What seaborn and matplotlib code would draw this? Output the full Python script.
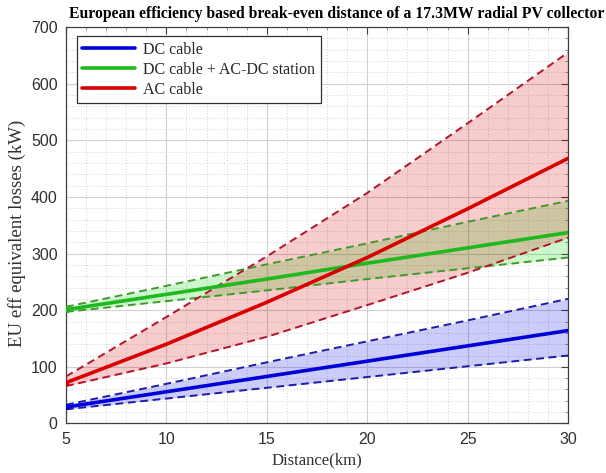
import numpy as np
import pandas as pd
import seaborn as sns
import matplotlib
matplotlib.use("Agg")
import matplotlib.pyplot as plt
from matplotlib.ticker import MultipleLocator

# ---- data ----
distance = [5, 10, 15, 20, 25, 30]
dc_mid = [29, 56, 83, 110, 137, 164]
dc_hi = [33, 70, 108, 145, 182, 220]
dc_lo = [25, 44, 63, 82, 101, 120]
dcac_mid = [201, 228, 255, 283, 310, 337]
dcac_hi = [206, 243, 281, 318, 356, 393]
dcac_lo = [197, 216, 235, 255, 274, 293]
ac_mid = [72, 140, 214, 293, 379, 468]
ac_hi = [83, 188, 295, 407, 530, 655]
ac_lo = [66, 106, 153, 209, 266, 328]

labels = ["DC cable", "DC cable + AC-DC station", "AC cable"]
x_ticks = [5, 10, 15, 20, 25, 30]
y_ticks = [0, 100, 200, 300, 400, 500, 600, 700]

sns.set_theme(style="white")
plt.rcParams["font.family"] = ["Liberation Serif", "DejaVu Serif"]

fig = plt.figure(figsize=(6.06, 4.73), dpi=100)
ax = fig.add_axes([0.1089, 0.1047, 0.8284, 0.8382])

series = [
    (labels[0], dc_mid, dc_lo, dc_hi, "#0000d8", "#1c1ca8", "#0000e0"),
    (labels[1], dcac_mid, dcac_lo, dcac_hi, "#1fb81f", "#3f9a2a", "#00d800"),
    (labels[2], ac_mid, ac_lo, ac_hi, "#d80000", "#b0142a", "#d80000"),
]

# fills first (order: green, red, blue for blending like reference)
for name, mid, lo, hi, c, dc, fc in [series[1], series[2], series[0]]:
    ax.fill_between(distance, lo, hi, color=fc, alpha=0.2, lw=0, zorder=1)

for name, mid, lo, hi, c, dc, fc in series:
    df = pd.DataFrame({"Distance": distance, "mid": mid, "lo": lo, "hi": hi})
    sns.lineplot(data=df, x="Distance", y="lo", ax=ax, color=dc, lw=1.4,
                 linestyle=(0, (4, 2.4)), zorder=3, legend=False)
    sns.lineplot(data=df, x="Distance", y="hi", ax=ax, color=dc, lw=1.4,
                 linestyle=(0, (4, 2.4)), zorder=3, legend=False)

handles = []
for name, mid, lo, hi, c, dc, fc in series:
    df = pd.DataFrame({"Distance": distance, "mid": mid})
    sns.lineplot(data=df, x="Distance", y="mid", ax=ax, color=c, lw=2.6,
                 zorder=4, legend=False, marker="s", markersize=5,
                 markevery=[0], markeredgewidth=0)
    handles.append(ax.lines[-1])

ax.set_xlim(5, 30)
ax.set_ylim(0, 700)
ax.set_xticks(x_ticks)
ax.set_yticks(y_ticks)
ax.xaxis.set_minor_locator(MultipleLocator(1))
ax.yaxis.set_minor_locator(MultipleLocator(20))
ax.grid(which="major", color="#d0d0d0", lw=0.8, linestyle="-", zorder=0)
ax.grid(which="minor", color="#d0d0d0", lw=0.7, linestyle=(0, (1, 2)), zorder=0)
ax.set_axisbelow(True)

for sp in ax.spines.values():
    sp.set_color("#404040")
    sp.set_linewidth(0.9)
ax.tick_params(which="major", direction="in", length=5, width=0.8, color="#404040",
               top=True, right=True, labelsize=11.5, labelcolor="#303030", pad=6)
ax.tick_params(which="minor", direction="in", length=2.5, width=0.6, color="#808080",
               top=True, right=True)
for lab in ax.get_xticklabels() + ax.get_yticklabels():
    lab.set_family(["Liberation Sans", "DejaVu Sans"])

ax.set_xlabel("Distance(km)", fontsize=12, color="#303030", labelpad=4)
ax.set_ylabel("EU eff equivalent losses (kW)", fontsize=13.5, color="#303030")
ax.yaxis.set_label_coords(-0.08, 0.48)

ax.text(0.54, 1.012, "European efficiency based break-even distance of a 17.3MW radial PV collector",
        transform=ax.transAxes, ha="center", va="bottom", fontsize=11.3,
        fontweight="bold", color="black")

leg = ax.legend(handles, labels, loc="upper left", bbox_to_anchor=(0.015, 0.985),
                fontsize=11.5, frameon=True, fancybox=False, edgecolor="#303030",
                framealpha=1, handlelength=3.3, borderpad=0.35, labelspacing=0.25,
                handletextpad=0.5, borderaxespad=0.2)
leg.get_frame().set_linewidth(0.9)
for lh in leg.get_lines():
    lh.set_marker("")
    lh.set_linewidth(2.6)

fig.savefig("out.png", dpi=100)
